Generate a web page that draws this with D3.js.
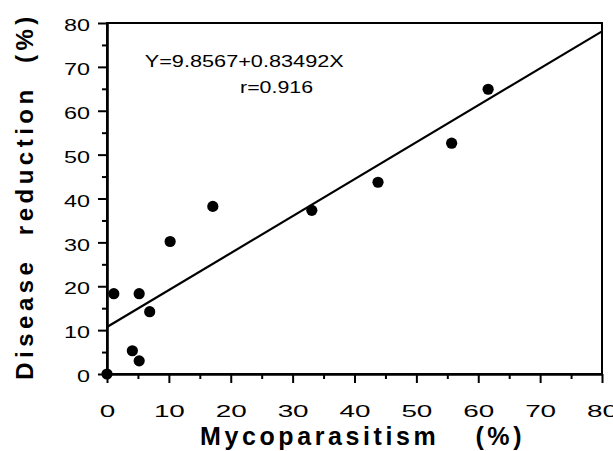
<!DOCTYPE html>
<html>
<head>
<meta charset="utf-8">
<script src="https://cdn.jsdelivr.net/npm/d3@7"></script>
<style>
  body { margin: 0; background: #fff; }
  text { font-family: "Liberation Sans", Arial, Helvetica, sans-serif; fill: #000; }
</style>
</head>
<body>
<script>
// values
const mycoparasitism   = [0, 1.1, 4.1, 5.2, 5.2, 6.9, 10.2, 17.1, 33.1, 43.8, 55.7, 61.6];
const diseaseReduction = [0, 18.3, 5.3, 3.0, 18.3, 14.2, 30.2, 38.2, 37.3, 43.7, 52.6, 64.9];
const majorTicks = [0, 10, 20, 30, 40, 50, 60, 70, 80];
const minorTicks = [5, 15, 25, 35, 45, 55, 65, 75];
const fitX = [0, 80];
const fitY = [10.7, 78.1];
const equationText = ["Y=9.8567+0.83492X", "r=0.916"];

const W = 613, H = 451;
const margin = { top: 23, left: 107, right: 11, bottom: 77 };
const width = W - margin.left - margin.right,
  height = H - margin.top - margin.bottom;

const xScale = d3.scaleLinear().domain([0, 80]).range([0, width]);
const yScale = d3.scaleLinear().domain([0, 80]).range([height, 0]);

const svg = d3.select('body').append('svg')
  .attr('width', W)
  .attr('height', H);

const g = svg.append('g')
  .attr('transform', `translate(${margin.left}, ${margin.top})`);

// frame top / right
g.append('rect')
  .attr('x', 0).attr('y', 0)
  .attr('width', width).attr('height', height)
  .attr('fill', 'none')
  .attr('stroke', '#000')
  .attr('stroke-width', 2);

// x axis
const xAxis = g.append('g').attr('transform', `translate(0, ${height})`);
xAxis.call(d3.axisBottom(xScale).tickValues(minorTicks).tickSize(5).tickFormat(''));
xAxis.call(g2 => g2.select('.domain').remove());
const xMajor = g.append('g').attr('transform', `translate(0, ${height})`)
  .call(d3.axisBottom(xScale).tickValues(majorTicks).tickSize(9).tickSizeOuter(0).tickPadding(22));
xMajor.select('.domain').attr('stroke-width', 2.6);
xMajor.selectAll('.tick text')
  .attr('font-size', 17)
  .attr('lengthAdjust', 'spacingAndGlyphs')
  .attr('textLength', d => String(d).length * 15.5);

// y axis
const yAxis = g.append('g');
yAxis.call(d3.axisLeft(yScale).tickValues(minorTicks).tickSize(5).tickFormat(''));
yAxis.call(g2 => g2.select('.domain').remove());
const yMajor = g.append('g')
  .call(d3.axisLeft(yScale).tickValues(majorTicks).tickSize(9).tickSizeOuter(0).tickPadding(8));
yMajor.select('.domain').attr('stroke-width', 2.6);
yMajor.selectAll('.tick text')
  .attr('font-size', 17)
  .attr('dy', '0.45em')
  .attr('lengthAdjust', 'spacingAndGlyphs')
  .attr('textLength', d => String(d).length * 13);

g.selectAll('.tick line').attr('stroke-width', 2);

// regression line
g.append('line')
  .attr('x1', xScale(fitX[0])).attr('y1', yScale(fitY[0]))
  .attr('x2', xScale(fitX[1])).attr('y2', yScale(fitY[1]))
  .attr('stroke', '#000')
  .attr('stroke-width', 2.2);

// points
const points = mycoparasitism.map((x, i) => ({ x, y: diseaseReduction[i] }));
g.selectAll('circle.pt')
  .data(points)
  .enter()
  .append('circle')
  .attr('class', 'pt')
  .attr('cx', d => xScale(d.x))
  .attr('cy', d => yScale(d.y))
  .attr('r', 5.6)
  .attr('fill', '#000');

// equation
g.append('text')
  .attr('x', xScale(6.1)).attr('y', yScale(70))
  .attr('font-size', 17)
  .attr('lengthAdjust', 'spacingAndGlyphs')
  .attr('textLength', 199)
  .text(equationText[0]);
g.append('text')
  .attr('x', xScale(21.5)).attr('y', yScale(64))
  .attr('font-size', 17)
  .attr('lengthAdjust', 'spacingAndGlyphs')
  .attr('textLength', 73)
  .text(equationText[1]);

// axis titles
const xTitle = svg.append('text')
  .attr('x', 200).attr('y', 445)
  .attr('font-size', 25)
  .attr('font-weight', 'bold')
  .style('letter-spacing', '3.6px');
xTitle.append('tspan').text('Mycoparasitism');
xTitle.append('tspan').attr('dx', 36).text('(%)');

svg.append('text')
  .attr('transform', 'translate(33, 196) rotate(-90)')
  .attr('text-anchor', 'middle')
  .attr('font-size', 24)
  .attr('font-weight', 'bold')
  .style('letter-spacing', '4.5px')
  .style('white-space', 'pre')
  .text('Disease  reduction  (%)');
</script>
</body>
</html>
